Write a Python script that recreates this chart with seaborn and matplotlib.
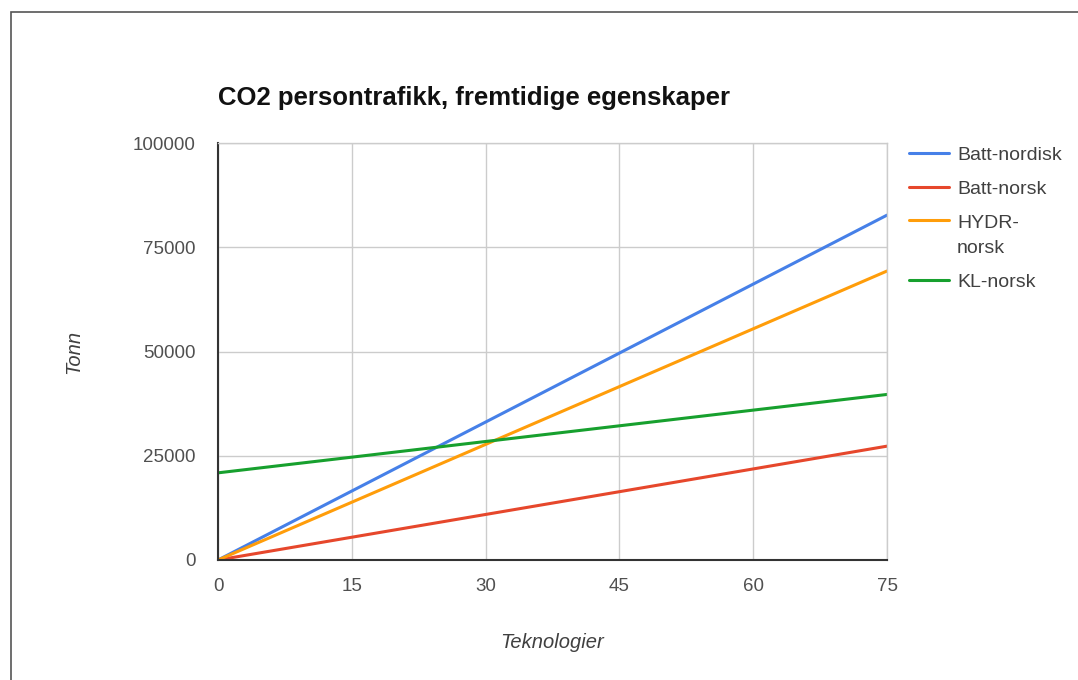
import numpy as np
import pandas as pd
import matplotlib.pyplot as plt
import seaborn as sns
from matplotlib.patches import Rectangle
from matplotlib.legend_handler import HandlerLine2D

# Values (two end points per series)
teknologier = [0, 75]
batt_nordisk = [0, 82700]
batt_norsk = [0, 27300]
hydr_norsk = [0, 69300]
kl_norsk = [20900, 39700]

series_names = ['Batt-nordisk', 'Batt-norsk', 'HYDR-norsk', 'KL-norsk']
legend_labels = ['Batt-nordisk', 'Batt-norsk', 'HYDR-\nnorsk', 'KL-norsk']
colors = ['#4680e8', '#e6472c', '#ff9d0a', '#17a02e']

x_ticks = [0, 15, 30, 45, 60, 75]
y_ticks = [0, 25000, 50000, 75000, 100000]

data = pd.DataFrame({
    'Teknologier': teknologier * 4,
    'Tonn': batt_nordisk + batt_norsk + hydr_norsk + kl_norsk,
    'serie': [n for n in series_names for _ in teknologier],
})


class RaisedLine(HandlerLine2D):
    # puts the legend line next to the first line of a wrapped label
    def create_artists(self, legend, orig_handle, xdescent, ydescent,
                       width, height, fontsize, trans):
        artists = super().create_artists(legend, orig_handle, xdescent, ydescent,
                                         width, height, fontsize, trans)
        for a in artists:
            a.set_ydata(np.asarray(a.get_ydata()) + 11)
        return artists


sns.set_style('white')
plt.rcParams['font.family'] = ['Liberation Sans', 'DejaVu Sans']

fig = plt.figure(figsize=(10.78, 6.8), dpi=100)
ax = fig.add_axes([218 / 1078, 120 / 680, 669 / 1078, 417 / 680])

sns.lineplot(data=data, x='Teknologier', y='Tonn', hue='serie',
             hue_order=series_names, palette=colors, linewidth=2.2,
             ax=ax, legend=False)

ax.set_xlim(0, 75)
ax.set_ylim(0, 100000)
ax.set_xticks(x_ticks)
ax.set_yticks(y_ticks)
ax.set_xticklabels([str(t) for t in x_ticks])
ax.set_yticklabels([str(t) for t in y_ticks])
ax.tick_params(axis='both', length=0, labelsize=13.5, labelcolor='#505050')
ax.tick_params(axis='x', pad=13)
ax.tick_params(axis='y', pad=16)
ax.grid(True, color='#cccccc', linewidth=1)
ax.set_axisbelow(True)

for side in ['top', 'right']:
    ax.spines[side].set_color('#cccccc')
    ax.spines[side].set_linewidth(1)
for side in ['left', 'bottom']:
    ax.spines[side].set_color('#333333')
    ax.spines[side].set_linewidth(1.5)

ax.set_xlabel('Teknologier', fontsize=14.5, style='italic', color='#404040', labelpad=27)
ax.set_ylabel('Tonn', fontsize=14.5, style='italic', color='#404040', labelpad=36)

fig.text(218 / 1078, 1 - 98 / 680, 'CO2 persontrafikk, fremtidige egenskaper',
         fontsize=18.5, fontweight='bold', color='#111111', va='center', ha='left')

# Legend on the right
handles = [plt.Line2D([], [], color=c, linewidth=2.2) for c in colors]
leg = fig.legend(handles, legend_labels, loc='upper left',
                 bbox_to_anchor=(891 / 1078, 1 - 129 / 680), frameon=False,
                 fontsize=14, handlelength=2.1, handletextpad=0.4,
                 labelspacing=0.85, handler_map={handles[2]: RaisedLine()})
for t in leg.get_texts():
    t.set_color('#404040')
    t.set_linespacing(1.6)

# Outer frame of the screenshot
fig.patches.append(Rectangle((11 / 1078, -0.02), 1.2, 1 - 12 / 680 + 0.02,
                             transform=fig.transFigure, fill=False,
                             edgecolor='#555555', linewidth=1.2))

plt.savefig('out.png', dpi=100)
